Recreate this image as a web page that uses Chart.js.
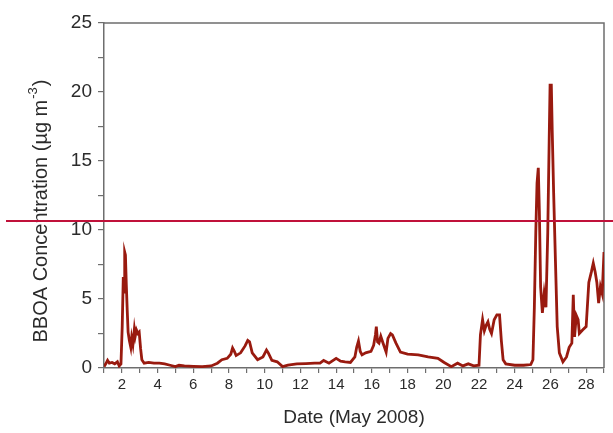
<!DOCTYPE html>
<html>
<head>
<meta charset="utf-8">
<script src="https://cdn.jsdelivr.net/npm/chart.js@4"></script>
<style>
    html, body { margin: 0; padding: 0; background: #fff; }
    #wrap { width: 613px; height: 433px; }
</style>
</head>
<body>
<div id="wrap"><canvas id="bboa"></canvas></div>
<script>
(function () {
    'use strict';

    /* ---- Data: BBOA concentration, May 2008 ---- */
    var days = [
        1.0, 1.1, 1.2, 1.3, 1.45, 1.6, 1.75, 1.85, 1.95, 2.02, 2.08, 2.12, 2.16, 2.2, 2.25, 2.3, 2.35, 2.42, 2.5, 2.55,
        2.62, 2.7, 2.75, 2.82, 2.9, 2.97, 3.05, 3.12, 3.25, 3.5, 3.8, 4.1, 4.4, 4.7, 5.0, 5.2, 5.5, 6.0, 6.5, 7.0,
        7.35, 7.6, 7.9, 8.1, 8.2, 8.3, 8.4, 8.65, 8.9, 9.05, 9.15, 9.3, 9.6, 9.9, 10.1, 10.2, 10.4, 10.7, 11.0, 11.3,
        11.8, 12.3, 12.8, 13.1, 13.3, 13.6, 14.0, 14.25, 14.5, 14.8, 15.05, 15.15, 15.25, 15.35, 15.45, 15.65, 15.95, 16.1, 16.2, 16.25,
        16.32, 16.4, 16.5, 16.6, 16.8, 16.9, 17.05, 17.15, 17.35, 17.6, 18.0, 18.6, 19.15, 19.7, 20.05, 20.45, 20.8, 21.1, 21.4, 21.7,
        22.0, 22.08, 22.2, 22.3, 22.4, 22.5, 22.6, 22.7, 22.85, 23.0, 23.15, 23.25, 23.35, 23.5, 24.0, 24.5, 24.9, 25.02, 25.1, 25.18,
        25.25, 25.32, 25.38, 25.45, 25.55, 25.65, 25.75, 25.85, 25.93, 25.98, 26.05, 26.1, 26.18, 26.28, 26.38, 26.5, 26.7, 26.9, 27.05, 27.2,
        27.28, 27.35, 27.45, 27.55, 27.62, 27.8, 28.0, 28.15, 28.3, 28.4, 28.5, 28.6, 28.7, 28.8, 28.9, 29.0
    ];
    var bboa = [
        0.1, 0.3, 0.55, 0.35, 0.4, 0.3, 0.45, 0.15, 0.3, 3.0, 6.6, 5.5, 8.4, 8.2, 6.0, 4.2, 2.6, 2.0, 1.5, 2.2,
        1.7, 2.8, 2.3, 2.75, 2.5, 2.6, 1.4, 0.6, 0.35, 0.4, 0.35, 0.35, 0.3, 0.2, 0.1, 0.2, 0.15, 0.12, 0.1, 0.15,
        0.35, 0.6, 0.7, 1.0, 1.45, 1.2, 0.9, 1.1, 1.6, 2.0, 1.9, 1.1, 0.6, 0.8, 1.3, 1.1, 0.55, 0.45, 0.1, 0.2,
        0.3, 0.32, 0.35, 0.35, 0.55, 0.35, 0.7, 0.5, 0.45, 0.4, 0.8, 1.5, 1.95, 1.2, 0.95, 1.1, 1.2, 1.65, 2.4, 3.0,
        1.9, 1.8, 2.3, 1.9, 1.15, 2.15, 2.5, 2.4, 1.8, 1.15, 1.0, 0.95, 0.8, 0.7, 0.4, 0.1, 0.35, 0.15, 0.3, 0.15,
        0.2, 2.4, 3.5, 2.7, 3.1, 3.35, 2.8, 2.5, 3.5, 3.85, 3.85, 2.0, 0.6, 0.3, 0.2, 0.2, 0.25, 0.6, 4.4, 9.8,
        13.4, 14.5, 11.4, 5.9, 4.0, 5.4, 4.4, 9.8, 16.5, 20.5, 20.5, 17.2, 12.7, 7.8, 3.0, 1.1, 0.45, 0.8, 1.5, 1.8,
        5.3, 2.25, 3.8, 3.5, 2.5, 2.75, 3.0, 6.2, 7.0, 7.6, 7.0, 6.2, 4.7, 5.9, 5.4, 8.4
    ];
    var xTickLabels = [2, 4, 6, 8, 10, 12, 14, 16, 18, 20, 22, 24, 26, 28];
    var yTickLabels = [0, 5, 10, 15, 20, 25];
    var refLevel = [10.65];

    var points = days.map(function (d, i) { return { x: d, y: bboa[i] }; });

    var axisColor = '#6e6e6e';
    var textColor = '#2b2b2b';
    var fontFamily = '"Liberation Sans", Arial, sans-serif';

    // box around the plot, the y title with its superscript, and the reference line
    var framePlugin = {
        id: 'frame',
        beforeDatasetsDraw: function (chart) {
            var a = chart.chartArea, ctx = chart.ctx;
            ctx.save();
            ctx.strokeStyle = axisColor;
            ctx.lineWidth = 1.5;
            ctx.beginPath();
            ctx.moveTo(a.left, a.top);
            ctx.lineTo(a.right, a.top);
            ctx.lineTo(a.right, a.bottom);
            ctx.stroke();
            ctx.restore();
        },
        afterDraw: function (chart) {
            var ctx = chart.ctx;

            var main = 'BBOA Concentration (\u00b5g m';
            var sup = '-3';
            var tail = ')';
            ctx.save();
            ctx.fillStyle = textColor;
            ctx.textBaseline = 'alphabetic';
            ctx.translate(47, 211);
            ctx.rotate(-Math.PI / 2);
            ctx.font = '20px ' + fontFamily;
            var wMain = ctx.measureText(main).width;
            var wTail = ctx.measureText(tail).width;
            ctx.font = '13px ' + fontFamily;
            var wSup = ctx.measureText(sup).width + 2;
            var x0 = -(wMain + wSup + wTail) / 2;
            ctx.font = '20px ' + fontFamily;
            ctx.fillText(main, x0, 0);
            ctx.font = '13px ' + fontFamily;
            ctx.fillText(sup, x0 + wMain + 1, -10);
            ctx.font = '20px ' + fontFamily;
            ctx.fillText(tail, x0 + wMain + wSup, 0);
            ctx.restore();

            var y = chart.scales.y.getPixelForValue(refLevel[0]);
            ctx.save();
            ctx.strokeStyle = '#c0113a';
            ctx.lineWidth = 2;
            ctx.beginPath();
            ctx.moveTo(6, y);
            ctx.lineTo(chart.width, y);
            ctx.stroke();
            ctx.restore();
        }
    };

    new Chart(document.getElementById('bboa'), {
        type: 'line',
        data: {
            datasets: [{
                data: points,
                borderColor: '#991a0f',
                borderWidth: 2.8,
                pointRadius: 0,
                tension: 0,
                fill: false
            }]
        },
        options: {
            responsive: true,
            maintainAspectRatio: false,
            animation: false,
            layout: { padding: { top: 23, right: 9, left: 0, bottom: 0 } },
            plugins: { legend: { display: false }, tooltip: { enabled: false } },
            scales: {
                x: {
                    type: 'linear',
                    min: 1,
                    max: 29,
                    afterBuildTicks: function (axis) {
                        var t = [];
                        for (var v = 1; v <= 29; v++) t.push({ value: v });
                        axis.ticks = t;
                    },
                    afterFit: function (axis) { axis.height = 65; },
                    border: { color: axisColor, width: 1.5 },
                    grid: { drawOnChartArea: false, color: axisColor, tickLength: 5, lineWidth: 1.2 },
                    ticks: {
                        autoSkip: false,
                        maxRotation: 0,
                        padding: 3,
                        color: textColor,
                        font: { family: fontFamily, size: 15 },
                        callback: function (v) { return xTickLabels.indexOf(v) !== -1 ? String(v) : ''; }
                    },
                    title: {
                        display: true,
                        text: 'Date (May 2008)',
                        color: textColor,
                        font: { family: fontFamily, size: 19 },
                        padding: { top: 5 }
                    }
                },
                y: {
                    min: 0,
                    max: 25,
                    afterBuildTicks: function (axis) {
                        var t = [];
                        for (var v = 0; v <= 25; v += 2.5) t.push({ value: v });
                        axis.ticks = t;
                    },
                    afterFit: function (axis) { axis.width = 104; },
                    border: { color: axisColor, width: 1.5 },
                    grid: { drawOnChartArea: false, color: axisColor, tickLength: 6, lineWidth: 1.2 },
                    ticks: {
                        padding: 6,
                        color: textColor,
                        font: { family: fontFamily, size: 19 },
                        callback: function (v) { return yTickLabels.indexOf(v) !== -1 ? String(v) : ''; }
                    }
                }
            }
        },
        plugins: [framePlugin]
    });
})();
</script>
</body>
</html>
